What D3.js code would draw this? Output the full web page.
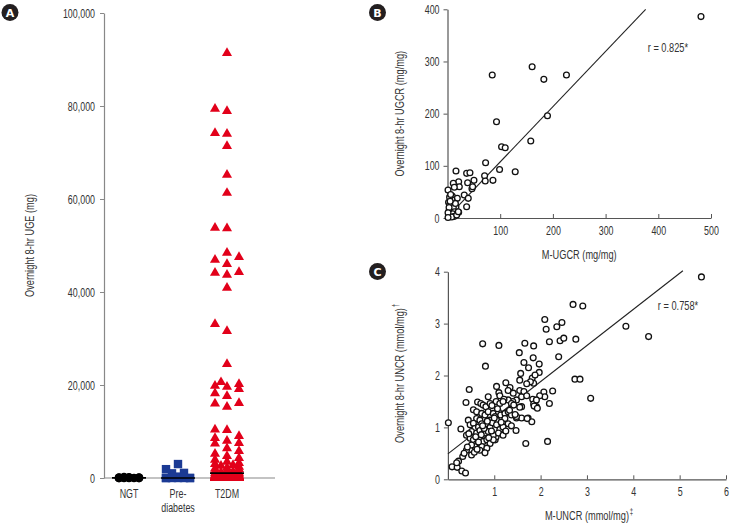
<!DOCTYPE html>
<html><head><meta charset="utf-8">
<script src="https://cdn.jsdelivr.net/npm/d3@7"></script>
<style>
html,body{margin:0;padding:0;background:#fff;}
svg text{font-family:"Liberation Sans",Arial,sans-serif;fill:#333;}
</style></head><body>
<svg id="c" width="732" height="523"></svg>
<script>
// ---------- DATA ----------
const groups = ["NGT", "Pre-diabetes", "T2DM"];
const ngtUGE = [0, 0, 0, 0, 10, 20, 30, 50, 80, 100, 150, 200];
const prediabetesUGE = [0, 0, 0, 0, 0, 0, 0, 300, 1000, 1100, 1900, 3000];
const t2dmUGE = [91400, 79400, 78900, 74200, 74000, 71400, 65200, 61300, 53800, 53700, 48400, 47500, 46900, 46000,
  44300, 44100, 43700, 40900, 33100, 31600, 24500, 20600, 20200, 19800, 19600, 19100, 18200, 17600, 16100, 16000,
  15300, 10400, 10300, 9000, 8600, 8000, 7500, 7400,
  6400, 5800, 5200, 4700, 4300, 3900, 3500, 3200, 3000, 2800, 2600, 2400, 2200, 2000, 1900, 1700, 1500, 1400,
  1200, 1100, 1000, 900, 800, 700, 650, 600, 550, 500, 450, 400, 380, 350, 320, 300, 280, 250, 230, 200,
  180, 160, 150, 130, 120, 100, 90, 80, 70, 60, 50, 40, 30, 25, 20, 15, 10, 8, 5, 3, 2,
  0, 0, 0, 0, 0, 0, 0, 0, 0, 0, 0, 0, 0, 0, 0, 0, 0, 0, 0];
const ugeTicks = [0, 20000, 40000, 60000, 80000, 100000];
const ugeLabel = "Overnight 8-hr UGE (mg)";

// Panel B: M-UGCR (x) vs overnight UGCR (y)
const ugcrPoints = [[481,386],[160.6,290],[84.9,274],[182.8,265.7],[225.7,274],[93,184.5],[189.7,196],[158,147.5],
  [102.6,136.6],[109.5,134.7],[72.3,106],[128.5,88.7],[98.8,93],[86.2,72.2],[70.4,81],[71.6,70.9],[16.1,90],
  [36.3,85.6],[42.6,86.8],[50.2,72.2],[21.2,69.5],[11,66.4],[38.2,67.6],[22.4,60],[46.4,56.1],[1,53.6],[31.8,44],
  [9,42],[18.6,37.7],[39.4,37.7],[8.5,35],[36.3,21.7],[16,21.7],[8,26],[21.2,10.9],[14,6],[12.9,58.8],[47.7,60],
  [2,30],[4,25],[6,18],[3,14],[5,10],[7,6],[2,4],[9,15],[11,20],[13,12],[4,40],[6,45],[10,8],[12,3],[3,20],[8,2],
  [1,10],[15,28],[5,32],[17.4,5.7],[20.5,12.1],[1,1]];
const ugcrXTicks = [100, 200, 300, 400, 500];
const ugcrYTicks = [0, 100, 200, 300, 400];
const ugcrFit = {slope: 1.06, intercept: 1.5, from: 5, to: 376};
const ugcrR = "r = 0.825*";
const ugcrXLabel = "M-UGCR (mg/mg)";
const ugcrYLabel = "Overnight 8-hr UGCR (mg/mg)";

// Panel C: M-UNCR (x) vs overnight UNCR (y)
const uncrPoints = [[5.47,3.90],[2.70,3.37],[2.91,3.34],[3.84,2.95],[4.33,2.75],[2.09,3.08],[2.12,2.89],[2.35,2.94],
  [2.46,3.02],[2.42,2.67],[2.50,2.72],[2.76,2.70],[2.19,2.65],[2.39,2.36],[0.75,2.61],[1.10,2.58],[1.66,2.62],
  [1.85,2.57],[1.54,2.44],[0.81,2.18],[2.74,1.93],[2.85,1.93],[3.08,1.56],[1.68,0.69],[2.15,0.73],[0.01,1.09],
  [0.09,0.24],[0.20,0.23],[0.23,0.35],[0.32,0.44],[0.30,0.16],[0.38,0.12],[0.28,0.97],[0.46,1.73],[0.39,1.48],
  [2.07,1.68],[2.26,1.70],[2.19,1.46],[2.09,1.59],[1.98,1.61],[1.97,2.06],[1.97,2.22],[1.84,2.34],[1.74,2.15],
  [1.64,2.25],[1.57,2.04],[1.82,1.95],[1.88,2.01],[1.85,1.85],[1.78,1.88],[1.55,1.91],[1.70,1.84],[1.25,1.86],
  [1.34,1.77],[1.30,1.71],[1.05,1.79],[1.10,1.67],[1.12,1.61],[1.41,1.66],[1.48,1.53],[1.55,1.71],[1.59,1.59],
  [1.64,1.69],[1.70,1.61],[1.83,1.54],[1.85,1.45],[1.91,1.40],[1.91,1.53],[1.59,1.40],[1.55,1.39],[1.40,1.50],
  [1.30,1.53],[1.21,1.54],[1.38,1.45],[0.87,1.59],[1.48,1.18],[1.59,1.18],[1.73,1.18],[1.81,1.11],[1.47,0.94],
  [1.30,1.07],[1.19,0.90],[1.02,0.76],[1.04,0.82],
  [0.64,1.49],[0.71,1.46],[0.76,1.43],[0.82,1.40],[0.91,1.46],[1.04,1.50],[1.12,1.46],[1.19,1.50],[1.37,1.46],
  [1.42,1.43],[1.86,1.41],[1.93,1.37],[0.55,1.34],[0.62,1.30],[0.73,1.27],[0.80,1.24],[0.87,1.30],[0.98,1.27],
  [1.02,1.21],[1.09,1.30],[1.14,1.24],[1.23,1.27],[1.30,1.30],[1.37,1.24],[1.48,1.21],[1.71,1.17],[0.44,1.14],
  [0.62,1.17],[0.69,1.14],[0.91,1.14],[1.05,1.14],[1.23,1.17],[0.48,1.05],[0.55,1.08],[0.58,0.98],[0.66,1.01],
  [0.73,1.07],[0.84,1.05],[0.91,1.00],[0.96,1.09],[1.05,1.05],[1.12,0.96],[1.19,1.01],[1.37,1.03],[0.51,0.92],
  [0.62,0.89],[0.69,0.94],[0.80,0.89],[0.87,0.92],[0.98,0.85],[1.09,0.89],[1.19,0.85],[0.40,0.85],[0.48,0.79],
  [0.55,0.76],[0.62,0.69],[0.69,0.77],[0.76,0.73],[0.84,0.76],[0.91,0.69],[0.98,0.76],[0.58,0.63],[0.51,0.66],
  [0.73,0.63],[0.84,0.60],[0.40,0.56],[0.51,0.47],[0.69,0.56],[0.80,0.51],[0.19,0.32],
  [0.45,0.88],[0.60,0.82],[0.66,0.72],[0.72,0.86],[0.78,0.98],[0.85,1.12],[0.94,0.93],[1.00,1.18],[1.07,1.36],
  [1.15,1.10],[0.57,0.52],[0.63,0.58],[0.42,0.62],[0.35,0.50],[0.75,1.03],[0.88,0.80],[1.25,0.93],[1.33,1.33],
  [1.45,1.25],[0.95,1.42]];
const uncrXTicks = [1, 2, 3, 4, 5, 6];
const uncrYTicks = [0, 1, 2, 3, 4];
const uncrFit = {slope: 0.696, intercept: 0.49, from: 0, to: 5.07};
const uncrR = "r = 0.758*";
const uncrXLabel = "M-UNCR (mmol/mg)";
const uncrYLabel = "Overnight 8-hr UNCR (mmol/mg)";

// ---------- DRAW ----------
const svg = d3.select("#c");
const TICK_FONT = 12.5;
const TITLE_FONT = 13;
const CONDENSE = 0.71;

// condense a text element horizontally (narrow grotesque look), keeping it as real text
function condense(el) {
  const len = el.getComputedTextLength();
  if (len > 0) {
    el.setAttribute("textLength", (len * CONDENSE).toFixed(2));
    el.setAttribute("lengthAdjust", "spacingAndGlyphs");
  }
  el.classList.add("nocond");
}

function badge(cx, cy, letter) {
  svg.append("circle").attr("cx", cx).attr("cy", cy).attr("r", 8.5).attr("fill", "#231f20");
  svg.append("text").attr("class", "nocond").attr("x", cx).attr("y", cy + 4.2).attr("text-anchor", "middle")
    .style("font-family", "'DejaVu Sans',sans-serif").style("font-weight", "bold")
    .style("font-size", "11px").style("fill", "#fff").text(letter);
}

function styleAxis(g, color) {
  g.select(".domain").attr("stroke", color).attr("stroke-width", 1.2);
  g.selectAll(".tick line").attr("stroke", color);
  g.selectAll(".tick text").style("font-size", TICK_FONT + "px").style("fill", "#333")
    .style("font-family", "'Liberation Sans',Arial,sans-serif");
}

// axis title (optionally with superscript mark), centred at (cx, cy), condensed by a group scale
function titleLabel(cx, cy, rotate, text, sup) {
  const g = svg.append("g")
    .attr("transform", `translate(${cx},${cy})` + (rotate ? " rotate(-90)" : "") + ` scale(${CONDENSE},1)`);
  const main = g.append("text").attr("class", "nocond").attr("text-anchor", "middle")
    .style("font-size", TITLE_FONT + "px").text(text);
  const len = main.node().getComputedTextLength();
  if (sup) {
    g.append("text").attr("class", "nocond").attr("x", len / 2 + 1.2).attr("y", -5)
      .style("font-size", "8.5px").text(sup);
  }
}

function dodge(values, y, step, maxK, w, h) {
  const order = values.map((v, i) => i).sort((a, b) => values[a] - values[b]);
  const cands = [0];
  for (let k = 1; k <= maxK; k++) cands.push(-k * step, k * step);
  const placed = [];
  for (const i of order) {
    const py = y(values[i]);
    let best = 0, bestCost = Infinity;
    for (const dx of cands) {
      let cost = 0;
      for (const p of placed) {
        const ox = w - Math.abs(p.dx - dx), oy = h - Math.abs(p.py - py);
        if (ox > 0 && oy > 0) cost += ox * oy;
      }
      if (cost < bestCost - 1e-9) { bestCost = cost; best = dx; }
    }
    placed.push({v: values[i], dx: best, py});
  }
  return placed;
}

// ===== Panel A =====
{
  const y = d3.scaleLinear().domain([0, 100000]).range([478, 13]);
  const x = d3.scalePoint().domain(groups).range([129, 227]);
  const axisX0 = 104, axisX1 = 275;
  const gy = svg.append("g").attr("transform", `translate(${axisX0},0)`)
    .call(d3.axisLeft(y).tickValues(ugeTicks).tickFormat(d3.format(",")).tickSize(4).tickSizeOuter(0).tickPadding(5));
  styleAxis(gy, "#888");
  svg.append("line").attr("x1", axisX0).attr("x2", axisX1).attr("y1", y(0)).attr("y2", y(0))
    .attr("stroke", "#888").attr("stroke-width", 1.2);

  const lab = svg.append("g").style("font-size", TICK_FONT + "px");
  groups.forEach(gname => {
    if (gname === "Pre-diabetes") {
      lab.append("text").attr("x", x(gname)).attr("y", y(0) + 20).attr("text-anchor", "middle").text("Pre-");
      lab.append("text").attr("x", x(gname)).attr("y", y(0) + 34).attr("text-anchor", "middle").text("diabetes");
    } else {
      lab.append("text").attr("x", x(gname)).attr("y", y(0) + 20).attr("text-anchor", "middle").text(gname);
    }
  });

  titleLabel(34, (y(0) + y(100000)) / 2, true, ugeLabel);

  const ngt = dodge(ngtUGE, y, 5, 2, 8, 8);
  svg.append("g").selectAll("circle").data(ngt).join("circle")
    .attr("cx", d => x("NGT") + d.dx).attr("cy", d => d.py).attr("r", 4.3).attr("fill", "#000");
  const pre = dodge(prediabetesUGE, y, 6, 2, 8, 8);
  svg.append("g").selectAll("rect").data(pre).join("rect")
    .attr("x", d => x("Pre-diabetes") + d.dx - 4.2).attr("y", d => d.py - 4.2)
    .attr("width", 8.4).attr("height", 8.4).attr("fill", "#1b3a94");
  const t2 = dodge(t2dmUGE, y, 6, 2, 10, 8.5);
  const tri = d3.symbol().type(d3.symbolTriangle).size(44);
  svg.append("g").selectAll("path").data(t2).join("path")
    .attr("d", tri).attr("transform", d => `translate(${x("T2DM") + d.dx},${d.py})`).attr("fill", "#e2001a");

  [[ngtUGE, "NGT"], [prediabetesUGE, "Pre-diabetes"], [t2dmUGE, "T2DM"]].forEach(([vals, gname]) => {
    const m = d3.median(vals);
    svg.append("line").attr("x1", x(gname) - 17).attr("x2", x(gname) + 17)
      .attr("y1", y(m)).attr("y2", y(m)).attr("stroke", "#000").attr("stroke-width", 1.6);
  });

  badge(10, 12.5, "A");
}

function scatterPanel(opts) {
  const {x, y, pts, xTicks, yTicks, fit, rText, rPos, xLabel, yLabel, xSup, ySup, yLabelX} = opts;
  const gy = svg.append("g").attr("transform", `translate(${x.range()[0]},0)`)
    .call(d3.axisLeft(y).tickValues(yTicks).tickFormat(d3.format("d")).tickSize(4).tickSizeOuter(0).tickPadding(4));
  styleAxis(gy, "#555");
  const gx = svg.append("g").attr("transform", `translate(0,${y.range()[0]})`)
    .call(d3.axisBottom(x).tickValues(xTicks).tickFormat(d3.format("d")).tickSize(-4).tickSizeOuter(0).tickPadding(8));
  styleAxis(gx, "#555");

  svg.append("line").attr("x1", x(fit.from)).attr("y1", y(fit.intercept + fit.slope * fit.from))
    .attr("x2", x(fit.to)).attr("y2", y(fit.intercept + fit.slope * fit.to))
    .attr("stroke", "#222").attr("stroke-width", 1.1);

  svg.append("g").selectAll("circle").data(pts).join("circle")
    .attr("cx", d => x(d[0])).attr("cy", d => y(d[1])).attr("r", 2.9)
    .attr("fill", "#fff").attr("stroke", "#111").attr("stroke-width", 1.3);

  svg.append("text").attr("x", x(rPos[0])).attr("y", y(rPos[1])).style("font-size", TITLE_FONT + "px").text(rText);

  titleLabel((x.range()[0] + x.range()[1]) / 2, y.range()[0] + 41, false, xLabel, xSup);
  titleLabel(yLabelX, (y.range()[0] + y.range()[1]) / 2, true, yLabel, ySup);
}

scatterPanel({
  x: d3.scaleLinear().domain([0, 500]).range([447.5, 711]),
  y: d3.scaleLinear().domain([0, 400]).range([218, 9.3]),
  pts: ugcrPoints, xTicks: ugcrXTicks, yTicks: ugcrYTicks, fit: ugcrFit,
  rText: ugcrR, rPos: [380, 318], xLabel: ugcrXLabel, yLabel: ugcrYLabel, yLabelX: 404
});
badge(377.5, 12.5, "B");

scatterPanel({
  x: d3.scaleLinear().domain([0, 6]).range([447.9, 726]),
  y: d3.scaleLinear().domain([0, 4]).range([479.3, 271.7]),
  pts: uncrPoints, xTicks: uncrXTicks, yTicks: uncrYTicks, fit: uncrFit,
  rText: uncrR, rPos: [4.53, 3.27], xLabel: uncrXLabel, yLabel: uncrYLabel, xSup: "\u2021", ySup: "\u2020",
  yLabelX: 404
});
badge(377.5, 271.5, "C");

// condense remaining texts
svg.selectAll("text").each(function () {
  if (!this.classList.contains("nocond")) condense(this);
});
</script>
</body></html>
